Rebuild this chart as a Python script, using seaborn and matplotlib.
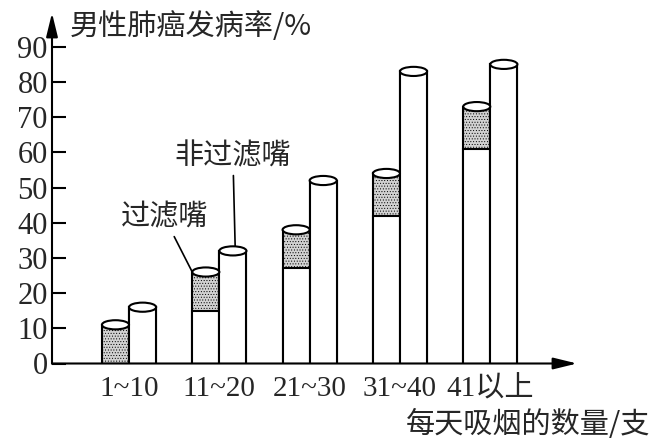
import matplotlib
matplotlib.use("Agg")
import matplotlib.pyplot as plt
from matplotlib.patches import Ellipse
import seaborn as sns
import pandas as pd

# ---- data ----
categories = ["1~10", "11~20", "21~30", "31~40", "41以上"]
filter_total = [11, 26, 38, 54, 73]        # 过滤嘴 cylinder height
filter_lower = [0, 15, 27, 42, 61]         # white (lower) part of 过滤嘴 cylinder
nonfilter = [16, 32, 52, 83, 85]           # 非过滤嘴
series = ["过滤嘴", "非过滤嘴"]
yticks = [0, 10, 20, 30, 40, 50, 60, 70, 80, 90]

sns.set_style("white")
plt.rcParams["font.family"] = ["Liberation Serif", "Noto Sans CJK SC", "DejaVu Sans"]
plt.rcParams["hatch.linewidth"] = 0.4
plt.rcParams["hatch.color"] = "#555555"

df = pd.DataFrame({
    "数量": categories * 2,
    "类型": [series[0]] * 5 + [series[1]] * 5,
    "发病率": filter_total + nonfilter,
    "下段": filter_lower + nonfilter,
})

fig = plt.figure(figsize=(6.52, 4.46), dpi=100)
ax = fig.add_axes([52 / 652, (446 - 363.5) / 446, 525 / 652, 350.5 / 446])

lw = 1.5
sns.barplot(data=df, x="数量", y="发病率", hue="类型",
            order=categories, hue_order=series,
            palette={series[0]: "#d2d2d2", series[1]: "white"},
            width=0.6, errorbar=None, legend=False, ax=ax,
            edgecolor="black", linewidth=lw, saturation=1)
top_bars = list(ax.patches)
for p in top_bars[:5]:
    p.set_hatch("......")
sns.barplot(data=df, x="数量", y="下段", hue="类型",
            order=categories, hue_order=series,
            palette={series[0]: "white", series[1]: "white"},
            width=0.6, errorbar=None, legend=False, ax=ax,
            edgecolor="black", linewidth=lw, saturation=1)

# cylinder tops
for p in top_bars:
    cx = p.get_x() + p.get_width() / 2
    ax.add_patch(Ellipse((cx, p.get_height()), p.get_width(), 2.6,
                         facecolor="white", edgecolor="black", lw=lw, zorder=5))

ax.set_xlim(-0.853, 4.96)
ax.set_ylim(0, 99.6)
for s in ax.spines.values():
    s.set_visible(False)

ax.set_yticks(yticks)
ax.set_yticklabels([str(v) for v in yticks], fontsize=22)
ax.tick_params(axis="y", direction="in", length=10, width=1.5, color="black",
               pad=3, left=True)
ax.set_xticks(range(len(categories)))
ax.set_xticklabels(categories, fontsize=21)
ax.tick_params(axis="x", length=0, pad=9)
ax.set_xlabel("")
ax.set_ylabel("")

arrow = dict(arrowstyle="-|>,head_length=0.9,head_width=0.22", color="black",
             lw=1.5, mutation_scale=16, shrinkA=0, shrinkB=0)
ax.annotate("", xy=(0, 1), xytext=(0, 0), xycoords="axes fraction", arrowprops=arrow)
ax.annotate("", xy=(1, 0), xytext=(0, 0), xycoords="axes fraction", arrowprops=arrow)

cjk = ["Noto Sans CJK SC", "DejaVu Sans"]
fig.text(70 / 652, 1 - 27 / 446, "男性肺癌发病率/%", ha="left", va="center",
         fontsize=21, family=cjk)
fig.text(650 / 652, 1 - 425 / 446, "每天吸烟的数量/支", ha="right", va="center",
         fontsize=21, family=cjk)

# callouts
ax.annotate("非过滤嘴", xy=(1.175, nonfilter[1] + 1.3), xytext=(1.15, 59),
            ha="center", va="center", fontsize=21, family=cjk,
            arrowprops=dict(arrowstyle="-", color="black", lw=1.2,
                            shrinkA=1, shrinkB=0))
ax.annotate("过滤嘴", xy=(0.70, filter_total[1]), xytext=(0.39, 41.6),
            ha="center", va="center", fontsize=21, family=cjk,
            arrowprops=dict(arrowstyle="-", color="black", lw=1.2,
                            shrinkA=1, shrinkB=0))

fig.savefig("out.png", dpi=100, facecolor="white")
